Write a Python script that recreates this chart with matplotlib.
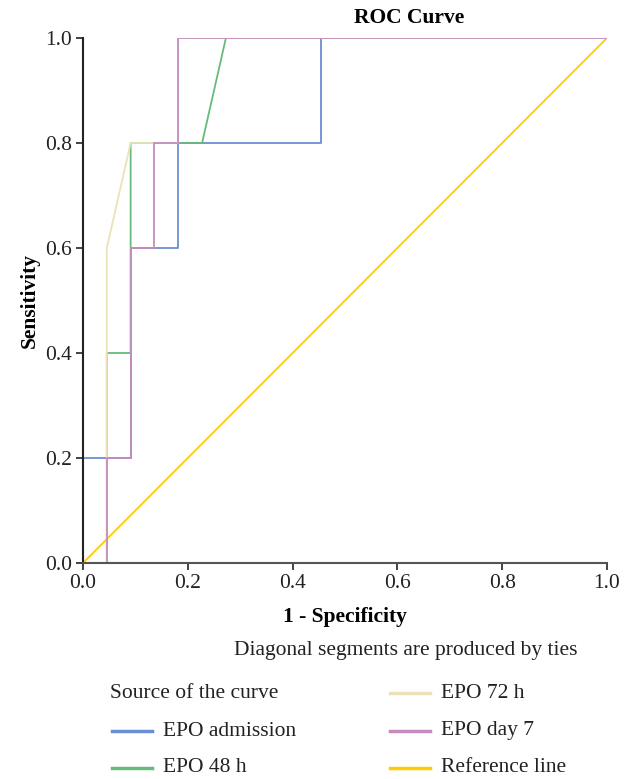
import matplotlib
matplotlib.use('Agg')
import matplotlib.pyplot as plt
from matplotlib.lines import Line2D

plt.rcParams['font.family'] = ['Liberation Serif', 'DejaVu Serif']

# ROC points (1 - specificity, sensitivity); steps of 1/22 and 1/5
adm_x = [0, 0, 1/22, 2/22, 2/22, 4/22, 4/22, 10/22, 10/22, 1]
adm_y = [0, 0.2, 0.2, 0.2, 0.6, 0.6, 0.8, 0.8, 1.0, 1.0]

h48_x = [0, 1/22, 1/22, 2/22, 2/22, 5/22, 6/22, 1]
h48_y = [0, 0, 0.4, 0.4, 0.8, 0.8, 1.0, 1.0]

h72_x = [0, 1/22, 1/22, 2/22, 4/22, 4/22, 1]
h72_y = [0, 0, 0.6, 0.8, 0.8, 1.0, 1.0]

d7_x = [0, 1/22, 1/22, 2/22, 2/22, 3/22, 3/22, 4/22, 4/22, 1]
d7_y = [0, 0, 0.2, 0.2, 0.6, 0.6, 0.8, 0.8, 1.0, 1.0]

ref_x = [0, 1]
ref_y = [0, 1]

names = ['EPO admission', 'EPO 48 h', 'EPO 72 h', 'EPO day 7', 'Reference line']
colors = ['#6b8fd0', '#66bb7c', '#ece2b8', '#c58cc1', '#ffcc00']

fs = 15.5

fig = plt.figure(figsize=(6.24, 7.79), dpi=100)
ax = fig.add_axes([83/624, 1 - 563/779, 524/624, 525/779])

ax.plot(ref_x, ref_y, color=colors[4], lw=1.3)
ax.plot(adm_x, adm_y, color=colors[0], lw=1.3)
ax.plot(h48_x, h48_y, color=colors[1], lw=1.3)
ax.plot(h72_x, h72_y, color=colors[2], lw=1.3)
ax.plot(d7_x, d7_y, color=colors[3], lw=1.3)

ax.set_xlim(0, 1)
ax.set_ylim(0, 1)
ticks = [0.0, 0.2, 0.4, 0.6, 0.8, 1.0]
ax.set_xticks(ticks)
ax.set_yticks(ticks)
ax.set_xticklabels(['%.1f' % t for t in ticks], fontsize=fs)
ax.set_yticklabels(['%.1f' % t for t in ticks], fontsize=fs)
ax.tick_params(direction='out', length=5, width=1.2, colors='#222222', pad=3)
for s in ['top', 'right']:
    ax.spines[s].set_visible(False)
ax.spines['left'].set_linewidth(1.5)
ax.spines['bottom'].set_linewidth(1.5)
ax.spines['left'].set_color('#222222')
ax.spines['bottom'].set_color('#555555')

ax.set_xlabel('1 - Specificity', fontsize=fs, fontweight='bold', labelpad=10)
ax.set_ylabel('Sensitivity', fontsize=fs, fontweight='bold', labelpad=4)

fig.text(409/624, 1 - 18/779, 'ROC Curve', fontsize=fs, fontweight='bold',
         ha='center', va='center')
fig.text(578/624, 1 - 650/779, 'Diagonal segments are produced by ties',
         fontsize=fs, ha='right', va='center', color='#222222')

# legend drawn by hand
fig.text(110/624, 1 - 693/779, 'Source of the curve', fontsize=fs,
         ha='left', va='center', color='#222222')
slots = [(112, 731), (112, 768), (390, 693), (390, 731), (390, 768)]
for (lx, ly), name, c in zip(slots, names, colors):
    fy = 1 - ly / 779
    fig.add_artist(Line2D([lx/624, (lx + 40)/624], [fy, fy], color=c, lw=2.5))
    fig.text((lx + 51)/624, fy, name, fontsize=fs, ha='left', va='center',
             color='#222222')

fig.savefig('out.png', dpi=100)
